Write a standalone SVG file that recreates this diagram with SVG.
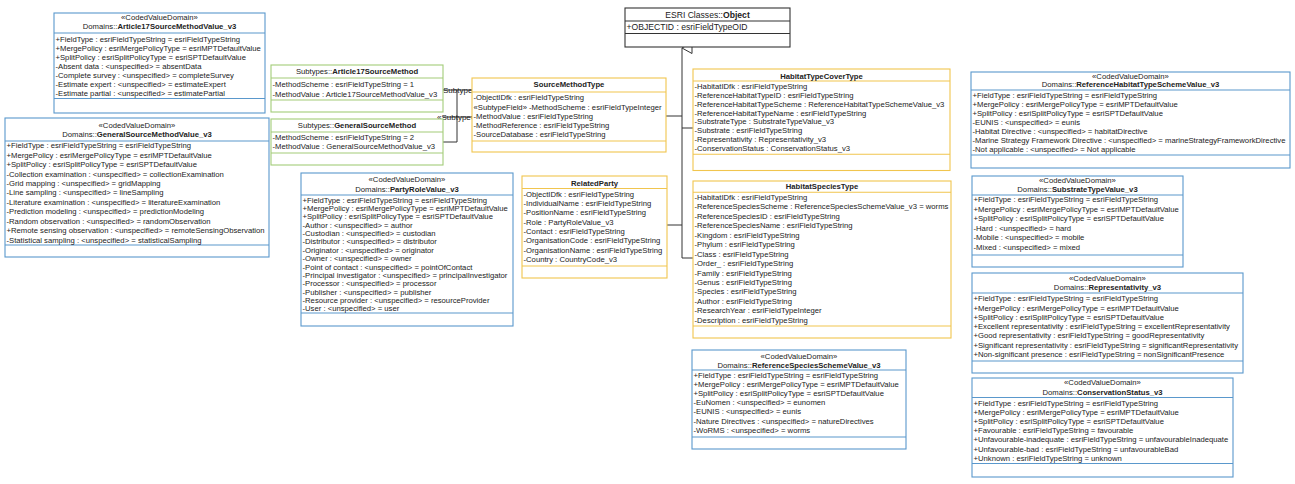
<svg xmlns="http://www.w3.org/2000/svg" width="1295" height="484" viewBox="0 0 1295 484">
<style>
text{font-family:"Liberation Sans",Arial,sans-serif;font-size:7.7px;fill:#222}
.c{text-anchor:middle}
.b{font-weight:bold}
rect{fill:#fff;stroke-width:1.1}
.blue rect,.blue line{stroke:#5a98cc}
.yel rect,.yel line{stroke:#f1c54e}
.grn rect,.grn line{stroke:#a3cc78}
.blk rect,.blk line{stroke:#333}
line{stroke-width:1.1}
.con{stroke:#333;stroke-width:1;fill:none}
.esri text{font-size:8.6px}
.lbl{font-size:8px}
</style>
<defs>
<marker id="gen" markerWidth="12" markerHeight="12" refX="6" refY="1" orient="auto" markerUnits="userSpaceOnUse"><path d="M6,1 L11.5,11 L0.5,11 Z" fill="#fff" stroke="#333" stroke-width="1"/></marker>
</defs>

<g id="connectors">
<path class="con" d="M682,258 V48" marker-end="url(#gen)"/>
<path class="con" d="M666,116 H682"/>
<path class="con" d="M667,225 H682"/>
<path class="con" d="M682,128 H693"/>
<path class="con" d="M682,258 H693"/>
<path class="con" d="M443,90 H472"/>
<path class="con" d="M443,142 H457 V90"/>
<path class="con" d="M443,117 H472"/>
<text class="lbl" x="443" y="92.5">Subtype»</text>
<text class="lbl" x="437" y="120">«Subtype»</text>
</g>

<g id="Article17SourceMethodValue_v3" class="blue">
<rect x="54" y="13" width="211" height="100"/>
<line x1="54" y1="33" x2="265" y2="33"/><line x1="54" y1="98.5" x2="265" y2="98.5"/>
<text class="c" x="159.5" y="20.4">«CodedValueDomain»</text>
<text class="c" x="159.5" y="29.4">Domains::<tspan class="b">Article17SourceMethodValue_v3</tspan></text>
<text x="55.5" y="42.4">+FieldType : esriFieldTypeString = esriFieldTypeString</text>
<text x="55.5" y="51.4">+MergePolicy : esriMergePolicyType = esriMPTDefaultValue</text>
<text x="55.5" y="60.4">+SplitPolicy : esriSplitPolicyType = esriSPTDefaultValue</text>
<text x="55.5" y="69.4">-Absent data : &lt;unspecified&gt; = absentData</text>
<text x="55.5" y="78.4">-Complete survey : &lt;unspecified&gt; = completeSurvey</text>
<text x="55.5" y="87.4">-Estimate expert : &lt;unspecified&gt; = estimateExpert</text>
<text x="55.5" y="96.4">-Estimate partial : &lt;unspecified&gt; = estimatePartial</text>
</g>

<g id="GeneralSourceMethodValue_v3" class="blue">
<rect x="5" y="118" width="264" height="139"/>
<line x1="5" y1="141" x2="269" y2="141"/><line x1="5" y1="245" x2="269" y2="245"/>
<text class="c" x="137" y="127.7">«CodedValueDomain»</text>
<text class="c" x="137" y="136.7">Domains::<tspan class="b">GeneralSourceMethodValue_v3</tspan></text>
<text x="6.5" y="148.2">+FieldType : esriFieldTypeString = esriFieldTypeString</text>
<text x="6.5" y="157.6">+MergePolicy : esriMergePolicyType = esriMPTDefaultValue</text>
<text x="6.5" y="167.1">+SplitPolicy : esriSplitPolicyType = esriSPTDefaultValue</text>
<text x="6.5" y="176.5">-Collection examination : &lt;unspecified&gt; = collectionExamination</text>
<text x="6.5" y="186">-Grid mapping : &lt;unspecified&gt; = gridMapping</text>
<text x="6.5" y="195.4">-Line sampling : &lt;unspecified&gt; = lineSampling</text>
<text x="6.5" y="204.9">-Literature examination : &lt;unspecified&gt; = literatureExamination</text>
<text x="6.5" y="214.3">-Prediction modeling : &lt;unspecified&gt; = predictionModeling</text>
<text x="6.5" y="223.8">-Random observation : &lt;unspecified&gt; = randomObservation</text>
<text x="6.5" y="233.2">+Remote sensing observation : &lt;unspecified&gt; = remoteSensingObservation</text>
<text x="6.5" y="242.7">-Statistical sampling : &lt;unspecified&gt; = statisticalSampling</text>
</g>

<g id="Article17SourceMethod" class="grn">
<rect x="271" y="65" width="172" height="47"/>
<line x1="271" y1="78" x2="443" y2="78"/><line x1="271" y1="100" x2="443" y2="100"/>
<text class="c" x="357" y="74.4">Subtypes::<tspan class="b">Article17SourceMethod</tspan></text>
<text x="272.5" y="87">-MethodScheme : esriFieldTypeString = 1</text>
<text x="272.5" y="96.7">-MethodValue : Article17SourceMethodValue_v3</text>
</g>

<g id="GeneralSourceMethod" class="grn">
<rect x="271" y="119" width="172" height="46"/>
<line x1="271" y1="132" x2="443" y2="132"/><line x1="271" y1="153" x2="443" y2="153"/>
<text class="c" x="357" y="128.4">Subtypes::<tspan class="b">GeneralSourceMethod</tspan></text>
<text x="272.5" y="139.7">-MethodScheme : esriFieldTypeString = 2</text>
<text x="272.5" y="148.7">-MethodValue : GeneralSourceMethodValue_v3</text>
</g>

<g id="PartyRoleValue_v3" class="blue">
<rect x="301" y="173" width="212" height="153"/>
<line x1="301" y1="195" x2="513" y2="195"/><line x1="301" y1="313" x2="513" y2="313"/>
<text class="c" x="407" y="181.7">«CodedValueDomain»</text>
<text class="c" x="407" y="191.7">Domains::<tspan class="b">PartyRoleValue_v3</tspan></text>
<text x="302.5" y="202.7">+FieldType : esriFieldTypeString = esriFieldTypeString</text>
<text x="302.5" y="211">+MergePolicy : esriMergePolicyType = esriMPTDefaultValue</text>
<text x="302.5" y="219.4">+SplitPolicy : esriSplitPolicyType = esriSPTDefaultValue</text>
<text x="302.5" y="227.7">-Author : &lt;unspecified&gt; = author</text>
<text x="302.5" y="236.1">-Custodian : &lt;unspecified&gt; = custodian</text>
<text x="302.5" y="244.4">-Distributor : &lt;unspecified&gt; = distributor</text>
<text x="302.5" y="252.8">-Originator : &lt;unspecified&gt; = originator</text>
<text x="302.5" y="261.1">-Owner : &lt;unspecified&gt; = owner</text>
<text x="302.5" y="269.5">-Point of contact : &lt;unspecified&gt; = pointOfContact</text>
<text x="302.5" y="277.8">-Principal investigator : &lt;unspecified&gt; = principalInvestigator</text>
<text x="302.5" y="286.2">-Processor : &lt;unspecified&gt; = processor</text>
<text x="302.5" y="294.5">-Publisher : &lt;unspecified&gt; = publisher</text>
<text x="302.5" y="302.9">-Resource provider : &lt;unspecified&gt; = resourceProvider</text>
<text x="302.5" y="311.2">-User : &lt;unspecified&gt; = user</text>
</g>

<g id="ESRIObject" class="blk esri">
<rect x="625" y="8" width="165" height="39"/>
<line x1="625" y1="21" x2="790" y2="21"/><line x1="625" y1="33.5" x2="790" y2="33.5"/>
<text class="c" x="707.5" y="17.5">ESRI Classes::<tspan class="b">Object</tspan></text>
<text x="626.5" y="30">+OBJECTID : esriFieldTypeOID</text>
</g>

<g id="SourceMethodType" class="yel">
<rect x="472" y="78" width="194" height="74"/>
<line x1="472" y1="92" x2="666" y2="92"/><line x1="472" y1="141" x2="666" y2="141"/>
<text class="c b" x="569" y="87">SourceMethodType</text>
<text x="473.5" y="100.4">-ObjectIDfk : esriFieldTypeString</text>
<text x="473.5" y="109.5">«SubtypeField» -MethodScheme : esriFieldTypeInteger</text>
<text x="473.5" y="118.7">-MethodValue : esriFieldTypeString</text>
<text x="473.5" y="127.8">-MethodReference : esriFieldTypeString</text>
<text x="473.5" y="137">-SourceDatabase : esriFieldTypeString</text>
</g>

<g id="RelatedParty" class="yel">
<rect x="522" y="176" width="145" height="102"/>
<line x1="522" y1="188.5" x2="667" y2="188.5"/><line x1="522" y1="266" x2="667" y2="266"/>
<text class="c b" x="594.5" y="185.7">RelatedParty</text>
<text x="523.5" y="196.7">-ObjectIDfk : esriFieldTypeString</text>
<text x="523.5" y="206">-IndividualName : esriFieldTypeString</text>
<text x="523.5" y="215.4">-PositionName : esriFieldTypeString</text>
<text x="523.5" y="224.7">-Role : PartyRoleValue_v3</text>
<text x="523.5" y="234">-Contact : esriFieldTypeString</text>
<text x="523.5" y="243.4">-OrganisationCode : esriFieldTypeString</text>
<text x="523.5" y="252.7">-OrganisationName : esriFieldTypeString</text>
<text x="523.5" y="262">-Country : CountryCode_v3</text>
</g>

<g id="HabitatTypeCoverType" class="yel">
<rect x="693" y="69" width="257" height="101.5"/>
<line x1="693" y1="81" x2="950" y2="81"/><line x1="693" y1="154.3" x2="950" y2="154.3"/>
<text class="c b" x="821.5" y="78.5">HabitatTypeCoverType</text>
<text x="694.5" y="89.4">-HabitatIDfk : esriFieldTypeString</text>
<text x="694.5" y="98.2">-ReferenceHabitatTypeID : esriFieldTypeString</text>
<text x="694.5" y="106.9">-ReferenceHabitatTypeScheme : ReferenceHabitatTypeSchemeValue_v3</text>
<text x="694.5" y="115.7">-ReferenceHabitatTypeName : esriFieldTypeString</text>
<text x="694.5" y="124.4">-SubstrateType : SubstrateTypeValue_v3</text>
<text x="694.5" y="133.2">-Substrate : esriFieldTypeString</text>
<text x="694.5" y="142">-Representativity : Representativity_v3</text>
<text x="694.5" y="150.7">-ConservationStatus : ConservationStatus_v3</text>
</g>

<g id="HabitatSpeciesType" class="yel">
<rect x="693" y="181" width="258" height="157"/>
<line x1="693" y1="192.3" x2="951" y2="192.3"/><line x1="693" y1="326" x2="951" y2="326"/>
<text class="c b" x="822" y="189.4">HabitatSpeciesType</text>
<text x="694.5" y="200">-HabitatIDfk : esriFieldTypeString</text>
<text x="694.5" y="209.4">-ReferenceSpeciesScheme : ReferenceSpeciesSchemeValue_v3 = worms</text>
<text x="694.5" y="218.9">-ReferenceSpeciesID : esriFieldTypeString</text>
<text x="694.5" y="228.3">-ReferenceSpeciesName : esriFieldTypeString</text>
<text x="694.5" y="237.8">-Kingdom : esriFieldTypeString</text>
<text x="694.5" y="247.2">-Phylum : esriFieldTypeString</text>
<text x="694.5" y="256.6">-Class : esriFieldTypeString</text>
<text x="694.5" y="266.1">-Order_ : esriFieldTypeString</text>
<text x="694.5" y="275.5">-Family : esriFieldTypeString</text>
<text x="694.5" y="285">-Genus : esriFieldTypeString</text>
<text x="694.5" y="294.4">-Species : esriFieldTypeString</text>
<text x="694.5" y="303.8">-Author : esriFieldTypeString</text>
<text x="694.5" y="313.3">-ResearchYear : esriFieldTypeInteger</text>
<text x="694.5" y="322.7">-Description : esriFieldTypeString</text>
</g>

<g id="ReferenceSpeciesSchemeValue_v3" class="blue">
<rect x="692" y="350" width="214" height="99"/>
<line x1="692" y1="370" x2="906" y2="370"/><line x1="692" y1="437" x2="906" y2="437"/>
<text class="c" x="799" y="358.7">«CodedValueDomain»</text>
<text class="c" x="799" y="367.5">Domains::<tspan class="b">ReferenceSpeciesSchemeValue_v3</tspan></text>
<text x="693.5" y="377.7">+FieldType : esriFieldTypeString = esriFieldTypeString</text>
<text x="693.5" y="386.9">+MergePolicy : esriMergePolicyType = esriMPTDefaultValue</text>
<text x="693.5" y="396">+SplitPolicy : esriSplitPolicyType = esriSPTDefaultValue</text>
<text x="693.5" y="405.2">-EuNomen : &lt;unspecified&gt; = eunomen</text>
<text x="693.5" y="414.4">-EUNIS : &lt;unspecified&gt; = eunis</text>
<text x="693.5" y="423.5">-Nature Directives : &lt;unspecified&gt; = natureDirectives</text>
<text x="693.5" y="432.7">-WoRMS : &lt;unspecified&gt; = worms</text>
</g>

<g id="ReferenceHabitatTypeSchemeValue_v3" class="blue">
<rect x="971" y="72" width="319" height="96"/>
<line x1="971" y1="90" x2="1290" y2="90"/><line x1="971" y1="155" x2="1290" y2="155"/>
<text class="c" x="1130.5" y="78.7">«CodedValueDomain»</text>
<text class="c" x="1130.5" y="87">Domains::<tspan class="b">ReferenceHabitatTypeSchemeValue_v3</tspan></text>
<text x="972.5" y="97.7">+FieldType : esriFieldTypeString = esriFieldTypeString</text>
<text x="972.5" y="106.7">+MergePolicy : esriMergePolicyType = esriMPTDefaultValue</text>
<text x="972.5" y="115.7">+SplitPolicy : esriSplitPolicyType = esriSPTDefaultValue</text>
<text x="972.5" y="124.7">-EUNIS : &lt;unspecified&gt; = eunis</text>
<text x="972.5" y="133.7">-Habitat Directive : &lt;unspecified&gt; = habitatDirective</text>
<text x="972.5" y="142.7">-Marine Strategy Framework Directive : &lt;unspecified&gt; = marineStrategyFrameworkDirective</text>
<text x="972.5" y="151.7">-Not applicable : &lt;unspecified&gt; = Not applicable</text>
</g>

<g id="SubstrateTypeValue_v3" class="blue">
<rect x="972" y="176" width="211" height="91"/>
<line x1="972" y1="195" x2="1183" y2="195"/><line x1="972" y1="255" x2="1183" y2="255"/>
<text class="c" x="1077.5" y="183.4">«CodedValueDomain»</text>
<text class="c" x="1077.5" y="192">Domains::<tspan class="b">SubstrateTypeValue_v3</tspan></text>
<text x="973.5" y="202">+FieldType : esriFieldTypeString = esriFieldTypeString</text>
<text x="973.5" y="211.6">+MergePolicy : esriMergePolicyType = esriMPTDefaultValue</text>
<text x="973.5" y="221.2">+SplitPolicy : esriSplitPolicyType = esriSPTDefaultValue</text>
<text x="973.5" y="230.8">-Hard : &lt;unspecified&gt; = hard</text>
<text x="973.5" y="240.4">-Mobile : &lt;unspecified&gt; = mobile</text>
<text x="973.5" y="250">-Mixed : &lt;unspecified&gt; = mixed</text>
</g>

<g id="Representativity_v3" class="blue">
<rect x="972" y="273" width="271" height="100"/>
<line x1="972" y1="293" x2="1243" y2="293"/><line x1="972" y1="361" x2="1243" y2="361"/>
<text class="c" x="1107.5" y="281">«CodedValueDomain»</text>
<text class="c" x="1107.5" y="290">Domains::<tspan class="b">Representativity_v3</tspan></text>
<text x="973.5" y="301.2">+FieldType : esriFieldTypeString = esriFieldTypeString</text>
<text x="973.5" y="310.5">+MergePolicy : esriMergePolicyType = esriMPTDefaultValue</text>
<text x="973.5" y="319.8">+SplitPolicy : esriSplitPolicyType = esriSPTDefaultValue</text>
<text x="973.5" y="329.1">+Excellent representativity : esriFieldTypeString = excellentRepresentativity</text>
<text x="973.5" y="338.4">+Good representativity : esriFieldTypeString = goodRepresentativity</text>
<text x="973.5" y="347.7">+Significant representativity : esriFieldTypeString = significantRepresentativity</text>
<text x="973.5" y="357">+Non-significant presence : esriFieldTypeString = nonSignificantPresence</text>
</g>

<g id="ConservationStatus_v3" class="blue">
<rect x="972" y="378" width="261" height="99"/>
<line x1="972" y1="397.5" x2="1233" y2="397.5"/><line x1="972" y1="463.5" x2="1233" y2="463.5"/>
<text class="c" x="1102.5" y="385.4">«CodedValueDomain»</text>
<text class="c" x="1102.5" y="395">Domains::<tspan class="b">ConservationStatus_v3</tspan></text>
<text x="973.5" y="405.7">+FieldType : esriFieldTypeString = esriFieldTypeString</text>
<text x="973.5" y="414.9">+MergePolicy : esriMergePolicyType = esriMPTDefaultValue</text>
<text x="973.5" y="424">+SplitPolicy : esriSplitPolicyType = esriSPTDefaultValue</text>
<text x="973.5" y="433.2">+Favourable : esriFieldTypeString = favourable</text>
<text x="973.5" y="442.4">+Unfavourable-inadequate : esriFieldTypeString = unfavourableInadequate</text>
<text x="973.5" y="451.5">+Unfavourable-bad : esriFieldTypeString = unfavourableBad</text>
<text x="973.5" y="460.7">+Unknown : esriFieldTypeString = unknown</text>
</g>
</svg>
